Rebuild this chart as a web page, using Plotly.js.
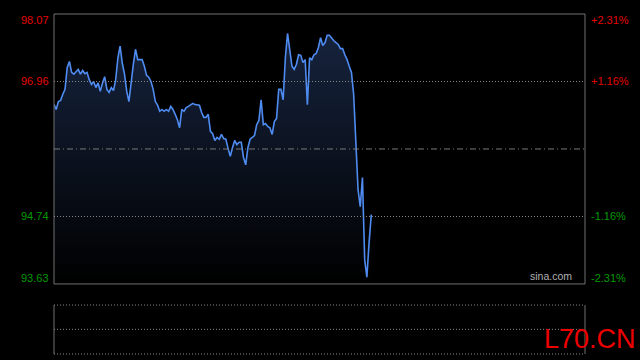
<!DOCTYPE html>
<html>
<head>
<meta charset="utf-8">
<script src="https://cdn.plot.ly/plotly-3.0.1.min.js"></script>
<style>html,body{margin:0;padding:0;background:#000;}#chart{width:640px;height:360px;}</style>
</head>
<body>
<div id="chart"></div>
<script>
// Intraday minute index (0 = open) and price
const minutes = Array.from({length: 145}, (_, i) => i);
const prices = [
  96.58, 96.50, 96.63, 96.65, 96.75, 96.83, 97.19, 97.29, 97.11, 97.08,
  97.12, 97.16, 97.08, 97.14, 97.09, 97.11, 96.99, 96.91, 96.96, 96.86,
  96.94, 96.80, 96.93, 97.04, 96.83, 96.78, 96.86, 96.81, 96.99, 97.35,
  97.54, 97.26, 97.08, 96.80, 96.63, 96.99, 97.24, 97.49, 97.32, 97.32,
  97.32, 97.21, 97.06, 97.03, 96.96, 96.83, 96.63, 96.57, 96.47, 96.50,
  96.47, 96.50, 96.47, 96.55, 96.50, 96.42, 96.33, 96.20, 96.50, 96.47,
  96.53, 96.55, 96.57, 96.60, 96.58, 96.58, 96.57, 96.45, 96.37, 96.37,
  96.42, 96.14, 96.10, 95.99, 96.04, 96.01, 96.09, 96.02, 96.01, 95.86,
  95.73, 95.87, 95.99, 95.92, 95.96, 95.96, 95.71, 95.59, 95.87, 96.01,
  96.04, 96.07, 96.25, 96.32, 96.66, 96.25, 96.27, 96.22, 96.20, 96.09,
  96.30, 96.35, 96.83, 96.83, 96.66, 97.35, 97.75, 97.49, 97.21, 97.16,
  97.24, 97.40, 97.39, 97.27, 97.32, 96.58, 97.35, 97.32, 97.40, 97.42,
  97.52, 97.68, 97.55, 97.60, 97.72, 97.72, 97.67, 97.63, 97.60, 97.57,
  97.50, 97.50, 97.40, 97.32, 97.21, 97.11, 96.75, 95.84, 95.18, 94.90,
  95.38, 94.03, 93.74, 94.31, 94.77
];
const sessionMinutes = 241;
const prevClose = 95.85;
const priceLevels = [98.07, 96.96, 94.74, 93.63];
const pctLabels = ["+2.31%", "+1.16%", "-1.16%", "-2.31%"];
const levelColors = ["#e60000", "#e60000", "#009a00", "#009a00"];
const gridLevels = [96.96, 94.74];

const yMin = 93.63, yMax = 98.07;

const trace = {
  x: minutes, y: prices, type: 'scatter', mode: 'lines',
  line: {color: '#4f8cf2', width: 1.6},
  fill: 'tozeroy',
  fillgradient: {type: 'vertical', start: yMin, stop: yMax,
    colorscale: [[0, 'rgba(0,0,0,1)'], [1, 'rgba(24,38,66,1)']]},
  hoverinfo: 'skip', xaxis: 'x', yaxis: 'y'
};

const dotStyle = {color:'#8a8a8a', width:1, dash:'1px,2px'};
const shapes = [];
// main frame
shapes.push({type:'rect', xref:'paper', yref:'paper', x0:0, x1:1, y0:0.206, y1:1,
  line:{color:'#707070', width:1}, fillcolor:'rgba(0,0,0,0)', layer:'above'});
gridLevels.forEach(v => shapes.push({type:'line', xref:'paper', yref:'y', x0:0, x1:1, y0:v, y1:v, line:dotStyle}));
shapes.push({type:'line', xref:'paper', yref:'y', x0:0, x1:1, y0:prevClose, y1:prevClose,
  line:{color:'#7a7a7a', width:1, dash:'6px,3px,1px,3px'}});
// lower panel
shapes.push({type:'line', xref:'paper', yref:'paper', x0:0, x1:0, y0:0, y1:0.144, line:{color:'#707070', width:1}});
shapes.push({type:'line', xref:'paper', yref:'paper', x0:1, x1:1, y0:0, y1:0.144, line:{color:'#707070', width:1}});
[0, 0.0725, 0.144].forEach(p => shapes.push({type:'line', xref:'paper', yref:'paper', x0:0, x1:1, y0:p, y1:p, line:dotStyle}));

const annotations = [];
const shifts = [-6, 0, 0, 6];
priceLevels.forEach((v, i) => {
  annotations.push({xref:'paper', yref:'y', x:0, y:v, xanchor:'right', yanchor:'middle', xshift:-3, yshift:shifts[i],
    text:v.toFixed(2), showarrow:false, font:{family:'Liberation Sans, Arial', size:11, color:levelColors[i]}});
  annotations.push({xref:'paper', yref:'y', x:1, y:v, xanchor:'left', yanchor:'middle', xshift:4, yshift:shifts[i],
    text:pctLabels[i], showarrow:false, font:{family:'Liberation Sans, Arial', size:11, color:levelColors[i]}});
});
annotations.push({xref:'paper', yref:'paper', x:1, y:0.206, xanchor:'right', yanchor:'bottom', xshift:-11, yshift:0,
  text:'sina.com', showarrow:false, font:{family:'Liberation Sans, Arial', size:10.5, color:'#b0b0b0'}});
annotations.push({xref:'paper', yref:'paper', x:1, y:0.045, xanchor:'center', yanchor:'middle', xshift:5,
  text:'L70.CN', showarrow:false, font:{family:'Liberation Sans, Arial', size:27, color:'#ee0000'}});

const layout = {
  width: 640, height: 360,
  margin: {l: 54, r: 55, t: 14, b: 6, pad: 0},
  paper_bgcolor: '#000', plot_bgcolor: '#000',
  showlegend: false,
  xaxis: {range: [0, sessionMinutes], showgrid:false, zeroline:false, showticklabels:false, ticks:'', showline:false, fixedrange:true},
  yaxis: {range: [yMin, yMax], domain: [0.206, 1], showgrid:false, zeroline:false, showticklabels:false, ticks:'', showline:false},
  shapes: shapes, annotations: annotations
};

Plotly.newPlot('chart', [trace], layout, {displayModeBar:false, staticPlot:true});
</script>
</body>
</html>
